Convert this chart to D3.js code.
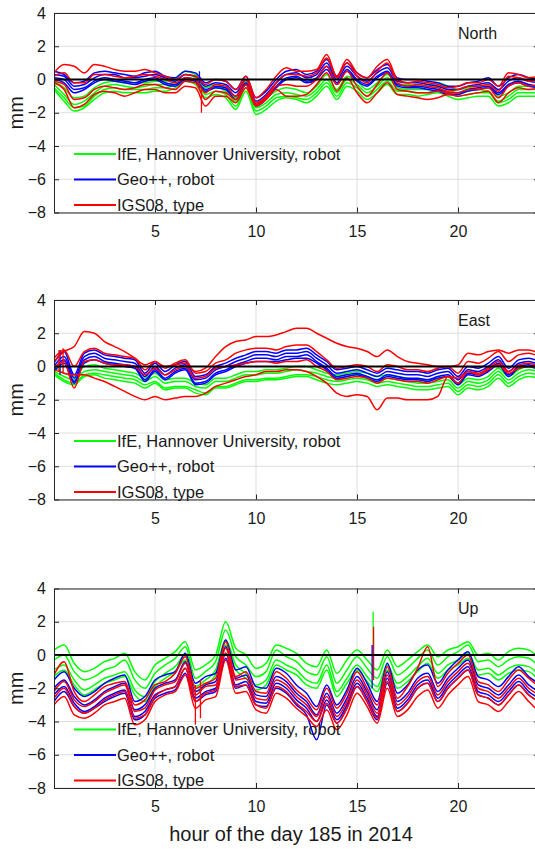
<!DOCTYPE html>
<html lang="en">
<head>
<meta charset="utf-8">
<title>North / East / Up differences, day 185 2014</title>
<script src="https://cdn.jsdelivr.net/npm/d3@7"></script>
<style>
  body { margin: 0; background: #fff; }
  text { font-family: "Liberation Sans", Arial, sans-serif; fill: #1a1a1a; }
</style>
</head>
<body>
<div id="chart"></div>
<script>
// sample times (hour of day), read every half hour
var hours = [0,0.5,1,1.5,2,2.5,3,3.5,4,4.5,5,5.5,6,6.5,7,7.5,8,8.5,9,9.5,10,10.5,11,11.5,12,
             12.5,13,13.5,14,14.5,15,15.5,16,16.5,17,17.5,18,18.5,19,19.5,20,20.5,21,21.5,22,22.5,23,23.5,24];

var xTicks = [5, 10, 15, 20];
var yTicks = [-8, -6, -4, -2, 0, 2, 4];
var panelNames = ["North", "East", "Up"];
var legendLabels = ["IfE, Hannover University, robot", "Geo++, robot", "IGS08, type"];

// ---- North (mm)
var northIfE = [
 [-0.1,-0.5,-1.1,-1.0,-0.5,-0.2,-0.1,-0.2,-0.2,-0.2,-0.1,-0.1,0.1,0.5,0.3,-0.5,-0.3,-0.5,-1.1,-0.1,-1.4,-1.1,-0.7,-0.5,-0.6,-0.8,-0.4,0.3,-0.6,0.2,-0.1,-0.6,-0.2,0.3,-0.3,-0.3,-0.4,-0.4,-0.2,-0.4,-0.6,-0.5,-0.4,-0.4,-1.0,-0.8,-0.4,-0.4,-0.4],
 [-0.3,-0.9,-1.5,-1.3,-0.8,-0.4,-0.3,-0.4,-0.5,-0.4,-0.3,-0.3,-0.1,0.3,0.1,-0.7,-0.5,-0.7,-1.3,-0.3,-1.7,-1.4,-0.9,-0.8,-0.9,-1.0,-0.6,0.0,-0.8,0.0,-0.3,-0.8,-0.4,0.1,-0.5,-0.6,-0.6,-0.6,-0.4,-0.6,-0.8,-0.7,-0.6,-0.7,-1.3,-1.0,-0.6,-0.6,-0.6],
 [-0.5,-1.1,-1.7,-1.6,-1.0,-0.6,-0.5,-0.6,-0.6,-0.6,-0.5,-0.5,-0.3,0.1,-0.1,-0.9,-0.7,-0.9,-1.6,-0.5,-1.9,-1.6,-1.1,-1.0,-1.1,-1.2,-0.8,-0.2,-1.0,-0.2,-0.5,-1.0,-0.6,-0.1,-0.7,-0.7,-0.8,-0.8,-0.6,-0.8,-1.0,-0.9,-0.8,-0.8,-1.4,-1.2,-0.8,-0.8,-0.8],
 [-0.6,-1.3,-1.9,-1.7,-1.2,-0.8,-0.7,-0.8,-0.8,-0.8,-0.7,-0.7,-0.5,-0.1,-0.3,-1.1,-0.9,-1.1,-1.8,-0.7,-2.1,-1.8,-1.3,-1.1,-1.2,-1.4,-1.0,-0.4,-1.2,-0.4,-0.7,-1.2,-0.8,-0.3,-0.9,-0.9,-1.0,-0.9,-0.8,-1.0,-1.2,-1.1,-1.0,-1.0,-1.6,-1.4,-1.0,-1.0,-1.0]
];
var northGeo = [
 [0.5,0.3,-0.2,-0.1,0.4,0.5,0.4,0.3,0.2,0.4,0.5,0.2,0.1,0.5,0.4,-0.2,0.0,-0.1,-0.6,0.2,-1.1,-0.7,0.0,0.5,0.6,0.3,0.5,1.2,0.2,1.0,0.4,0.1,0.6,0.9,0.1,0.0,0.0,-0.1,-0.2,-0.4,-0.4,-0.2,-0.1,0.1,-0.4,0.1,0.3,0.1,0.0],
 [0.3,0.2,-0.4,-0.3,0.1,0.3,0.3,0.1,0.1,0.2,0.3,0.1,-0.1,0.3,0.2,-0.4,-0.2,-0.3,-0.8,0.0,-1.3,-0.9,-0.2,0.3,0.4,0.1,0.3,1.0,0.0,0.8,0.2,-0.1,0.4,0.7,-0.1,-0.2,-0.2,-0.3,-0.4,-0.6,-0.6,-0.4,-0.3,-0.2,-0.6,-0.1,0.1,-0.1,-0.2],
 [0.1,0.0,-0.6,-0.5,-0.1,0.1,0.0,-0.1,-0.2,0.0,0.1,-0.2,-0.3,0.1,0.0,-0.6,-0.4,-0.5,-1.0,-0.2,-1.5,-1.1,-0.4,0.1,0.2,-0.1,0.1,0.8,-0.2,0.6,0.0,-0.3,0.2,0.5,-0.3,-0.4,-0.4,-0.5,-0.6,-0.8,-0.8,-0.6,-0.5,-0.4,-0.8,-0.3,-0.1,-0.3,-0.4],
 [0.0,-0.2,-0.8,-0.6,-0.2,0.0,-0.1,-0.2,-0.3,-0.1,0.0,-0.3,-0.4,0.0,-0.1,-0.7,-0.5,-0.6,-1.2,-0.3,-1.6,-1.2,-0.5,0.0,0.1,-0.2,0.0,0.6,-0.3,0.5,-0.1,-0.4,0.1,0.4,-0.4,-0.5,-0.5,-0.6,-0.7,-0.9,-0.9,-0.7,-0.6,-0.5,-0.9,-0.4,-0.2,-0.4,-0.5]
];
var northIGS = [
 [0.4,0.9,0.8,0.4,0.9,0.8,0.6,0.5,0.5,0.6,0.4,0.2,0.0,0.3,0.2,-0.3,0.0,-0.1,-0.6,0.2,-1.1,-0.6,0.2,0.7,0.5,0.5,0.6,1.5,0.2,1.2,0.4,0.1,0.8,1.2,0.0,-0.2,-0.1,-0.2,-0.3,-0.5,-0.4,-0.2,-0.2,0.0,-0.4,0.4,0.3,0.1,0.2],
 [0.2,0.4,-0.2,-0.2,0.3,0.3,0.2,0.1,0.2,0.3,0.2,0.0,-0.2,0.1,0.0,-0.8,-0.3,-0.4,-1.0,0.0,-1.4,-1.0,-0.2,0.3,0.3,0.2,0.4,1.3,0.1,1.0,0.2,-0.2,0.5,1.0,-0.2,-0.4,-0.3,-0.4,-0.5,-0.7,-0.6,-0.4,-0.4,-0.3,-0.7,0.2,0.1,-0.1,0.0],
 [-0.1,-0.3,-1.2,-1.1,-0.6,-0.4,-0.5,-0.6,-0.5,-0.3,-0.3,-0.5,-0.6,-0.1,-0.2,-1.2,-0.7,-0.8,-1.2,-0.3,-1.5,-1.1,-0.4,-0.3,-0.4,-0.4,0.0,0.8,-0.3,0.5,-0.4,-1.0,-0.3,0.4,-0.6,-0.7,-0.8,-0.8,-0.7,-0.8,-0.8,-0.6,-0.6,-0.5,-1.1,-0.4,-0.2,-0.4,-0.3],
 [-0.2,-0.6,-1.7,-1.5,-0.9,-0.7,-0.8,-1.0,-0.8,-0.6,-0.6,-0.8,-0.8,-0.4,-0.5,-1.6,-1.0,-1.0,-1.4,-0.5,-1.6,-1.2,-0.6,-1.0,-1.0,-0.9,-0.3,0.4,-0.7,0.1,-0.8,-1.4,-0.8,-0.2,-0.9,-1.0,-1.1,-1.2,-1.1,-0.9,-1.0,-0.9,-0.8,-0.7,-1.4,-0.8,-0.5,-0.6,-0.5]
];
// short jumps: [hour, from, to, source]
var northJumps = [[7.2, -0.5, 0.5, "geo"], [7.3, -2.0, -0.6, "igs"]];

// ---- East (mm)
var eastIfE = [
 [-0.1,-0.4,-0.6,0.0,0.1,-0.1,-0.2,-0.3,-0.4,-0.7,-0.4,-0.8,-0.7,-0.7,-1.0,-1.1,-0.7,-0.7,-0.5,-0.3,-0.3,-0.2,-0.2,-0.1,0.0,0.0,-0.2,-0.4,-0.5,-0.4,-0.3,-0.4,-0.6,-0.5,-0.6,-0.7,-0.8,-0.8,-0.7,-0.6,-1.1,-0.7,-0.8,-0.6,-0.1,-0.6,-0.2,0.0,-0.1],
 [-0.3,-0.6,-0.8,-0.3,-0.2,-0.3,-0.4,-0.5,-0.6,-0.9,-0.6,-1.0,-0.9,-0.9,-1.2,-1.3,-0.9,-0.9,-0.7,-0.5,-0.5,-0.4,-0.4,-0.3,-0.2,-0.3,-0.4,-0.6,-0.7,-0.6,-0.5,-0.6,-0.8,-0.7,-0.8,-0.9,-1.0,-1.0,-0.9,-0.8,-1.3,-0.9,-1.0,-0.8,-0.3,-0.8,-0.4,-0.2,-0.3],
 [-0.4,-0.8,-1.0,-0.5,-0.4,-0.5,-0.6,-0.7,-0.8,-1.1,-0.9,-1.3,-1.2,-1.2,-1.4,-1.6,-1.2,-1.2,-1.0,-0.8,-0.8,-0.7,-0.7,-0.6,-0.5,-0.5,-0.6,-0.8,-0.9,-0.8,-0.7,-0.8,-1.0,-0.9,-1.0,-1.1,-1.2,-1.2,-1.1,-1.0,-1.5,-1.1,-1.2,-1.0,-0.5,-1.0,-0.6,-0.4,-0.5],
 [-0.5,-0.9,-1.1,-0.6,-0.5,-0.7,-0.8,-0.9,-1.0,-1.3,-1.0,-1.4,-1.3,-1.3,-1.6,-1.7,-1.3,-1.3,-1.1,-0.9,-0.9,-0.8,-0.8,-0.7,-0.6,-0.6,-0.8,-1.0,-1.1,-1.0,-0.9,-1.0,-1.2,-1.1,-1.2,-1.3,-1.4,-1.4,-1.3,-1.2,-1.7,-1.3,-1.4,-1.2,-0.7,-1.2,-0.8,-0.6,-0.7]
];
var eastGeo = [
 [0.2,0.9,-0.5,0.8,1.0,0.7,0.6,0.5,0.4,-0.4,0.2,-0.3,0.1,0.3,-0.6,-0.5,0.0,0.2,0.5,0.7,0.9,0.9,0.8,1.0,1.0,1.1,0.7,0.3,-0.2,-0.1,0.0,-0.2,-0.4,-0.1,-0.2,-0.3,-0.3,-0.4,-0.2,-0.1,-0.6,0.0,-0.1,0.2,0.6,-0.1,0.4,0.5,0.3],
 [0.0,0.6,-0.7,0.6,0.8,0.5,0.4,0.3,0.2,-0.6,0.0,-0.5,-0.1,0.1,-0.8,-0.7,-0.2,0.0,0.3,0.5,0.7,0.7,0.6,0.8,0.8,0.9,0.5,0.1,-0.4,-0.3,-0.2,-0.4,-0.6,-0.3,-0.4,-0.5,-0.5,-0.6,-0.4,-0.3,-0.8,-0.2,-0.3,0.0,0.4,-0.3,0.2,0.3,0.1],
 [-0.2,0.4,-0.9,0.4,0.6,0.3,0.2,0.1,0.0,-0.8,-0.2,-0.7,-0.3,-0.1,-1.0,-0.9,-0.4,-0.2,0.1,0.3,0.5,0.5,0.4,0.6,0.6,0.7,0.3,-0.1,-0.6,-0.5,-0.4,-0.6,-0.8,-0.5,-0.6,-0.7,-0.7,-0.8,-0.6,-0.5,-1.0,-0.4,-0.5,-0.2,0.2,-0.5,0.0,0.1,-0.1],
 [-0.3,0.2,-1.0,0.2,0.4,0.2,0.1,0.0,-0.1,-0.9,-0.3,-0.8,-0.4,-0.2,-1.1,-1.0,-0.5,-0.3,0.0,0.2,0.3,0.3,0.3,0.4,0.5,0.5,0.2,-0.2,-0.7,-0.6,-0.5,-0.7,-0.9,-0.6,-0.7,-0.8,-0.8,-0.9,-0.7,-0.6,-1.1,-0.5,-0.6,-0.3,0.1,-0.6,-0.1,0.0,-0.2]
];
var eastIGS = [
 [0.3,0.9,1.2,2.1,2.0,1.5,1.2,0.9,0.5,0.1,0.3,0.0,0.1,0.2,-0.3,-0.1,0.6,1.2,1.5,1.6,1.8,1.8,1.9,2.1,2.3,2.3,2.0,1.7,1.4,1.2,1.1,0.9,0.6,1.0,0.6,0.3,0.2,0.1,0.0,0.0,0.1,0.8,0.7,0.9,1.0,0.8,1.0,1.0,0.8],
 [0.5,1.0,0.0,0.9,1.1,0.8,0.7,0.6,0.5,-0.2,0.3,-0.1,0.2,0.4,-0.4,-0.3,0.2,0.4,0.8,1.0,1.1,1.1,1.0,1.2,1.3,1.3,0.9,0.4,-0.1,0.0,0.1,0.0,-0.3,0.1,0.0,-0.2,-0.2,-0.3,-0.1,0.0,-0.4,0.3,0.2,0.5,0.9,0.3,0.7,0.8,0.6],
 [-0.1,0.3,-1.3,0.3,0.4,0.2,0.1,0.1,0.0,-0.5,-0.1,-0.5,-0.2,0.0,-0.7,-0.6,-0.1,0.0,0.1,0.2,0.3,0.3,0.2,0.3,0.3,0.4,0.0,-0.3,-0.8,-0.7,-0.6,-0.7,-1.0,-0.7,-0.8,-0.9,-0.9,-1.0,-0.8,-0.6,-1.0,-0.3,-0.4,-0.1,0.3,-0.3,0.1,0.2,0.0],
 [-0.2,-0.4,-0.5,-0.5,-0.7,-0.9,-1.2,-1.5,-1.8,-2.0,-1.8,-2.0,-1.9,-1.8,-1.8,-1.6,-1.2,-1.0,-0.8,-0.6,-0.5,-0.3,-0.3,-0.2,-0.2,-0.3,-0.6,-1.0,-1.6,-1.8,-1.7,-1.8,-2.6,-1.9,-1.9,-2.0,-2.0,-2.0,-1.8,-0.6,-0.7,-0.3,-0.5,-0.2,0.1,-0.4,-0.1,0.0,-0.1]
];
var eastJumps = [[0.3, -0.5, 1.0, "geo"], [0.25, -0.3, 1.0, "igs"], [0.45, -0.4, 1.1, "igs"]];

// ---- Up (mm)
var upIfE = [
 [0.3,0.6,-0.5,-1.0,-0.8,-0.4,-0.2,0.1,-1.0,-1.5,-0.6,-0.2,0.2,0.8,-0.9,-0.6,0.0,2.0,0.4,0.0,-0.8,-0.5,0.6,0.4,0.1,-0.5,-0.7,0.3,-1.1,-0.3,0.3,-0.3,-0.9,0.3,-0.7,-0.3,0.2,0.6,-0.1,0.3,0.5,0.8,0.0,0.1,-0.3,0.2,0.4,0.3,-0.2],
 [-0.3,0.0,-1.0,-1.5,-1.3,-0.9,-0.7,-0.3,-1.5,-2.0,-1.1,-0.6,-0.2,0.5,-1.4,-1.0,-0.4,1.5,-0.1,-0.6,-1.3,-1.0,0.3,-0.1,-0.4,-1.0,-1.2,-0.1,-1.7,-0.9,-0.1,-0.8,-1.4,-0.1,-1.2,-0.8,-0.2,0.3,-0.6,-0.1,0.2,0.6,-0.4,-0.3,-0.7,-0.3,-0.1,-0.2,-0.7],
 [-0.9,-0.6,-1.5,-2.1,-1.8,-1.4,-1.2,-1.0,-2.1,-2.5,-1.6,-1.1,-0.7,0.0,-1.9,-1.5,-0.9,0.9,-0.6,-1.1,-1.8,-1.5,-0.3,-0.6,-0.9,-1.5,-1.7,-0.6,-2.2,-1.4,-0.6,-1.3,-1.9,-0.6,-1.7,-1.3,-0.7,-0.2,-1.1,-0.6,-0.3,0.1,-0.9,-0.8,-1.2,-0.8,-0.6,-0.7,-1.2],
 [-1.3,-0.9,-1.8,-2.4,-2.1,-1.7,-1.5,-1.3,-2.4,-2.8,-1.9,-1.4,-1.0,-0.3,-2.2,-1.8,-1.2,0.6,-0.9,-1.4,-2.1,-1.8,-0.6,-0.9,-1.2,-1.8,-2.0,-0.9,-2.5,-1.7,-0.9,-1.6,-2.2,-0.9,-2.0,-1.6,-1.0,-0.5,-1.4,-0.9,-0.6,-0.2,-1.2,-1.1,-1.5,-1.1,-0.9,-1.0,-1.5]
];
var upGeo = [
 [-1.5,-1.0,-2.0,-2.5,-2.2,-1.7,-1.4,-1.2,-2.8,-2.5,-1.5,-1.2,-1.0,0.1,-1.7,-1.3,-1.1,0.9,-0.9,-0.7,-1.9,-2.0,-0.8,-1.1,-1.8,-2.3,-3.1,-1.8,-3.0,-2.1,-0.8,-1.7,-2.8,-0.5,-2.3,-1.8,-0.9,-0.6,-1.7,-0.9,-0.3,0.2,-1.3,-1.5,-1.9,-1.3,-0.7,-1.3,-1.7],
 [-2.0,-1.5,-2.5,-3.0,-2.7,-2.2,-1.9,-1.7,-3.3,-3.0,-2.0,-1.7,-1.5,-0.4,-2.2,-1.8,-1.6,0.5,-1.4,-1.2,-2.4,-2.5,-1.3,-1.6,-2.3,-2.8,-3.6,-2.3,-3.5,-2.6,-1.3,-2.2,-3.3,-1.0,-2.8,-2.3,-1.4,-1.1,-2.2,-1.4,-0.8,-0.3,-1.8,-2.0,-2.4,-1.8,-1.2,-1.8,-2.2],
 [-2.4,-1.9,-2.9,-3.4,-3.1,-2.6,-2.3,-2.1,-3.7,-3.4,-2.4,-2.1,-1.9,-0.8,-2.6,-2.2,-2.0,0.1,-1.8,-1.6,-2.8,-2.9,-1.7,-2.0,-2.7,-3.2,-4.0,-2.7,-3.9,-3.0,-1.7,-2.6,-3.7,-1.4,-3.2,-2.7,-1.8,-1.5,-2.6,-1.8,-1.2,-0.7,-2.2,-2.4,-2.8,-2.2,-1.6,-2.2,-2.6],
 [-2.8,-2.2,-3.1,-3.5,-3.2,-2.8,-2.5,-2.3,-3.9,-3.6,-2.6,-2.3,-2.1,-1.1,-2.8,-2.4,-2.2,-0.2,-2.0,-1.8,-3.0,-3.1,-2.0,-2.3,-3.0,-3.6,-5.1,-3.0,-4.1,-3.2,-1.9,-2.8,-3.9,-1.7,-3.4,-2.9,-2.0,-1.7,-2.8,-2.0,-1.4,-0.9,-2.4,-2.6,-3.0,-2.4,-1.8,-2.4,-2.8]
];
var upIGS = [
 [-1.2,-0.4,-2.2,-2.8,-2.4,-1.9,-1.7,-1.6,-3.0,-2.7,-1.8,-1.6,-1.1,-0.1,-2.0,-1.7,-1.4,0.8,-1.3,-1.0,-2.2,-2.3,-1.0,-1.4,-2.1,-2.6,-3.3,-2.0,-3.2,-2.3,-1.0,-2.0,-3.0,-0.7,-2.6,-1.9,-0.8,0.5,-1.9,-1.1,-0.5,0.0,-1.6,-1.8,-2.2,-1.5,-0.9,-1.4,-1.9],
 [-2.2,-1.6,-2.7,-3.1,-2.8,-2.3,-2.0,-1.8,-3.4,-3.2,-2.1,-1.8,-1.6,-0.5,-2.4,-1.9,-1.8,0.4,-1.5,-1.4,-2.6,-2.7,-1.5,-1.8,-2.5,-3.0,-3.7,-2.5,-3.7,-2.8,-1.5,-2.4,-3.5,-1.2,-3.0,-2.5,-1.6,-1.3,-2.4,-1.6,-1.0,-0.5,-2.0,-2.2,-2.6,-2.0,-1.4,-2.0,-2.4],
 [-2.6,-2.0,-3.1,-3.5,-3.2,-2.7,-2.4,-2.2,-3.8,-3.6,-2.5,-2.1,-1.9,-0.8,-2.8,-2.3,-2.1,0.1,-1.9,-1.8,-3.0,-3.2,-1.9,-2.2,-2.9,-3.4,-4.0,-2.9,-4.1,-3.2,-1.9,-2.8,-3.8,-1.6,-3.4,-2.9,-2.0,-1.7,-2.8,-2.0,-1.4,-0.9,-2.4,-2.6,-3.0,-2.4,-1.8,-2.4,-2.8],
 [-3.0,-2.5,-3.6,-3.8,-3.5,-3.0,-2.8,-2.6,-4.2,-3.9,-2.8,-2.4,-2.2,-1.2,-3.2,-2.7,-2.5,-0.3,-2.3,-2.2,-3.3,-3.5,-2.3,-2.6,-3.2,-3.7,-4.3,-3.3,-4.5,-3.6,-2.3,-3.1,-4.1,-2.0,-3.7,-3.3,-2.5,-2.1,-3.2,-2.4,-1.8,-1.3,-2.8,-3.0,-3.4,-2.8,-2.2,-2.8,-3.4]
];
var upJumps = [[15.8, -1.3, 2.6, "ife"], [15.75, -2.0, 0.6, "geo"], [15.82, -1.5, 1.7, "igs"],
               [7.0, -4.2, -1.8, "igs"], [7.25, -3.8, -1.5, "igs"]];

// ---------------------------------------------------------------
var W = 535, H = 849;
var panelTops = [13, 300, 588.5];
var panelH = 199.5;
var left = 54, hourPx = 20.2;
var colors = { ife: "#00ff00", geo: "#0000ff", igs: "#ff0000" };

var panels = [
  { ife: northIfE, geo: northGeo, igs: northIGS, jumps: northJumps },
  { ife: eastIfE, geo: eastGeo, igs: eastIGS, jumps: eastJumps },
  { ife: upIfE, geo: upGeo, igs: upIGS, jumps: upJumps }
];

var x = d3.scaleLinear().domain([0, 24]).range([left, left + 24 * hourPx]);

var svg = d3.select("#chart").append("svg")
    .attr("width", W)
    .attr("height", H);

panels.forEach(function (p, k) {
    var top = panelTops[k];
    var y = d3.scaleLinear().domain([-8, 4]).range([top + panelH, top]);
    var g = svg.append("g");

    g.append("clipPath").attr("id", "clip" + k)
      .append("rect")
        .attr("x", x(0)).attr("y", top)
        .attr("width", x(24) - x(0)).attr("height", panelH);

    // grid
    g.selectAll(".hg").data(yTicks).enter().append("line")
        .attr("x1", x(0)).attr("x2", x(24))
        .attr("y1", function (d) { return y(d); })
        .attr("y2", function (d) { return y(d); })
        .attr("stroke", "#dedede").attr("stroke-width", 1);
    g.selectAll(".vg").data(xTicks).enter().append("line")
        .attr("y1", top).attr("y2", top + panelH)
        .attr("x1", function (d) { return x(d); })
        .attr("x2", function (d) { return x(d); })
        .attr("stroke", "#dedede").attr("stroke-width", 1);

    // data lines: green first, red on top
    var line = d3.line()
        .x(function (d, i) { return x(hours[i]); })
        .y(function (d) { return y(d); })
        .curve(d3.curveMonotoneX);

    var data = g.append("g").attr("clip-path", "url(#clip" + k + ")");
    ["ife", "geo", "igs"].forEach(function (src) {
        data.selectAll(".l-" + src).data(p[src]).enter().append("path")
            .attr("d", line)
            .attr("fill", "none")
            .attr("stroke", colors[src])
            .attr("stroke-width", 1.5);
        data.selectAll(".j-" + src)
            .data(p.jumps.filter(function (j) { return j[3] === src; }))
            .enter().append("line")
            .attr("x1", function (d) { return x(d[0]); })
            .attr("x2", function (d) { return x(d[0]); })
            .attr("y1", function (d) { return y(d[1]); })
            .attr("y2", function (d) { return y(d[2]); })
            .attr("stroke", colors[src])
            .attr("stroke-width", 1.3);
    });

    // zero line
    g.append("line")
        .attr("x1", x(0)).attr("x2", x(24))
        .attr("y1", y(0)).attr("y2", y(0))
        .attr("stroke", "#000").attr("stroke-width", 2);

    // axes with inward ticks
    var ax = d3.axisBottom(x).tickValues(xTicks).tickSizeInner(-5).tickSizeOuter(0).tickPadding(13);
    var axTop = d3.axisTop(x).tickValues(xTicks).tickSizeInner(-5).tickSizeOuter(0).tickFormat("");
    var ay = d3.axisLeft(y).tickValues(yTicks).tickSizeInner(-5).tickSizeOuter(0).tickPadding(8);
    var ayR = d3.axisRight(y).tickValues(yTicks).tickSizeInner(-5).tickSizeOuter(0).tickFormat("");

    [[ax, "translate(0," + (top + panelH) + ")"], [axTop, "translate(0," + top + ")"],
     [ay, "translate(" + x(0) + ",0)"], [ayR, "translate(" + x(24) + ",0)"]].forEach(function (a) {
        var sel = g.append("g").attr("transform", a[1]).call(a[0]);
        sel.selectAll("path, line").attr("stroke", "#262626");
        sel.selectAll("text").style("font-size", "16px").attr("fill", "#1a1a1a");
    });

    // y label
    g.append("text")
        .attr("transform", "translate(23," + (top + panelH / 2) + ") rotate(-90)")
        .attr("text-anchor", "middle")
        .style("font-size", "20px")
        .text("mm");

    // panel name
    g.append("text")
        .attr("x", 458).attr("y", top + 25.5)
        .style("font-size", "16px")
        .text(panelNames[k]);

    // legend
    ["ife", "geo", "igs"].forEach(function (src, i) {
        var ly = top + 141 + i * 25.5;
        g.append("line")
            .attr("x1", 74).attr("x2", 116)
            .attr("y1", ly).attr("y2", ly)
            .attr("stroke", colors[src]).attr("stroke-width", 2);
        g.append("text")
            .attr("x", 117).attr("y", ly + 5.8)
            .style("font-size", "16.5px")
            .text(legendLabels[i]);
    });
});

svg.append("text")
    .attr("x", 291).attr("y", 841)
    .attr("text-anchor", "middle")
    .style("font-size", "20px")
    .text("hour of the day 185 in 2014");
</script>
</body>
</html>
